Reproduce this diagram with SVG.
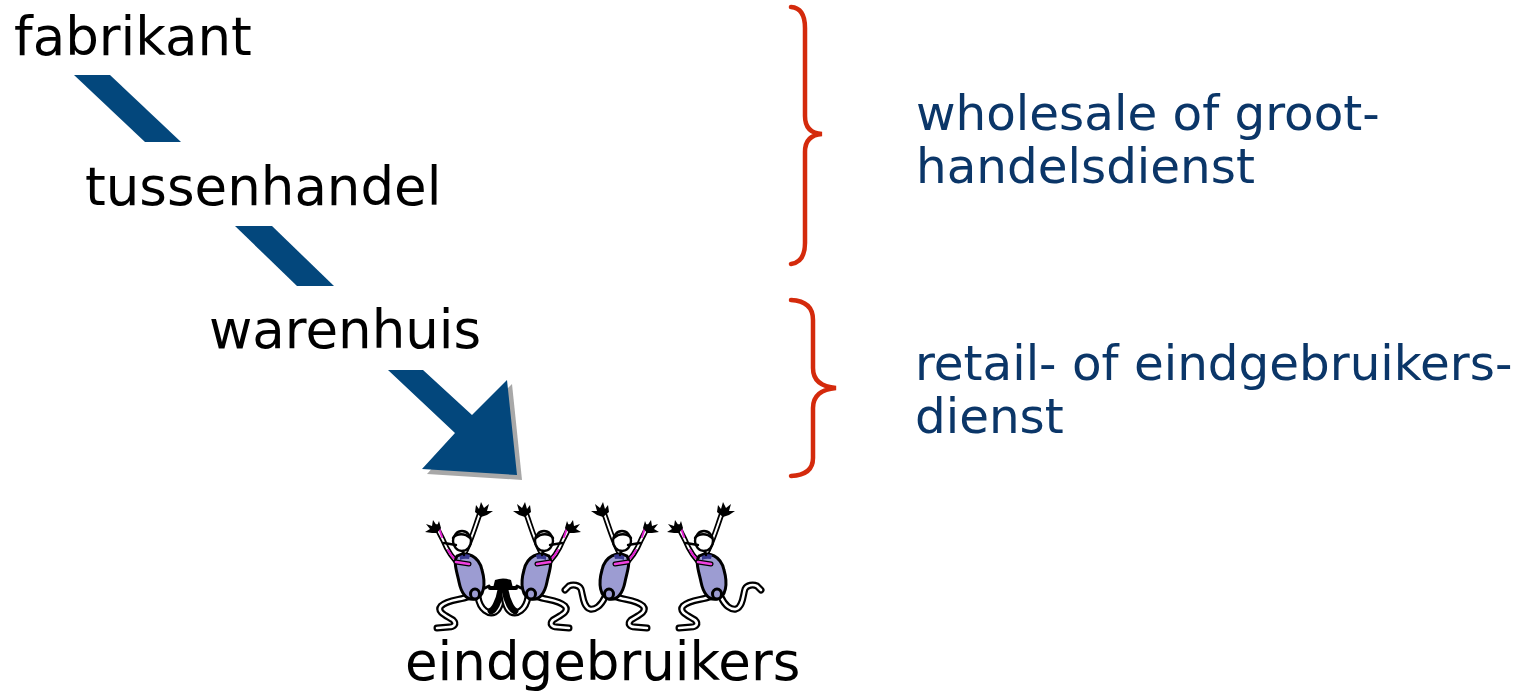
<svg xmlns="http://www.w3.org/2000/svg" xmlns:xlink="http://www.w3.org/1999/xlink" width="1536" height="692" viewBox="0 0 1536 692">
<style>
.lbl{font-family:"DejaVu Sans","Verdana",sans-serif;font-size:53px;fill:#000}
.blue{font-family:"DejaVu Sans","Verdana",sans-serif;font-size:48.4px;fill:#0b3668}
.band{fill:#03477c}
.brace{fill:none;stroke:#d42a0c;stroke-width:4.5;stroke-linecap:round}
.lk{fill:none;stroke:#000;stroke-width:7;stroke-linecap:round;stroke-linejoin:round}
.lw{fill:none;stroke:#fff;stroke-width:2.6;stroke-linecap:round;stroke-linejoin:round}
.ak{fill:none;stroke:#000;stroke-width:5.5;stroke-linecap:round;stroke-linejoin:round}
.aw{fill:none;stroke:#fff;stroke-width:2;stroke-linecap:round;stroke-linejoin:round}
.pk{fill:none;stroke:#e020d0;stroke-width:2;stroke-linecap:round}
.bd{fill:#9c9cd2;stroke:#000;stroke-width:3}
.hd{fill:#fff;stroke:#000;stroke-width:2.4}
.hand{fill:#000}
</style>
<defs>
<g id="fig">
  <!-- right arm (raised high) -->
  <path class="ak" d="M3,14 C9,4 13,-10 19,-27"/>
  <path class="aw" d="M3,14 C9,4 13,-10 19,-27"/>
  <path class="hand" d="M14,-28 l1,-7 l3,4 l2,-7 l3,6 l5,-4 l-2,7 l6,0 l-6,4 l-6,2 z"/>
  <!-- left arm (lower) -->
  <path class="ak" d="M-1,25 C-8,19 -14,10 -18,0 C-21,-6 -23,-9 -24,-13"/>
  <path class="aw" d="M-1,25 C-8,19 -14,10 -18,0 C-21,-6 -23,-9 -24,-13"/>
  <path class="pk" d="M-19,-3 C-20,-6 -21,-9 -22,-12" stroke-width="2.4"/>
  <path class="pk" d="M-4,21 C-8,18 -11,14 -13,10" stroke-width="2"/>
  <path class="hand" d="M-20,-12 l-2,-7 l-2,5 l-4,-6 l-1,6 l-6,-2 l4,5 l-5,3 l7,1 l5,0 z"/>
  <!-- standard left leg -->
  <path class="lk" d="M7,57 C-2,60 -14,60 -20,66 C-25,72 -14,76 -8,80 C-4,84 -7,87 -12,87 L-24,88"/>
  <path class="lw" d="M7,57 C-2,60 -14,60 -20,66 C-25,72 -14,76 -8,80 C-4,84 -7,87 -12,87 L-24,88"/>
  <!-- body -->
  <path class="bd" d="M-4,16 C6,11 18,16 21,30 C25,44 23,57 14,59 C5,61 0,52 -2,42 C-4,32 -8,22 -4,16 Z"/>
  <path d="M-1,16 Q4,13 9,15 L8,19 Q3,18 -1,20 Z" fill="#3a3a90"/>
  <ellipse class="bd" cx="14" cy="54" rx="4.5" ry="5"/>
  <!-- head with cap -->
  <ellipse class="hd" cx="1" cy="1" rx="9" ry="10"/>
  <path d="M-17,3 L-5,5 M-8,-2 C-4,-7 4,-7 9,-2 M2,11 L3,15" fill="none" stroke="#000" stroke-width="2.4" stroke-linecap="round"/>
  <!-- scarf -->
  <path d="M-5,22 L8,24" fill="none" stroke="#000" stroke-width="5" stroke-linecap="round"/>
  <path d="M-5,22 L8,24" fill="none" stroke="#f040e0" stroke-width="2.6" stroke-linecap="round"/>
</g>
<g id="leg-raised">
  <path class="lk" d="M18,57 C22,66 28,70 33,69 C40,67 40,55 42,49 C44,45 50,44 54,46 L58,50"/>
  <path class="lw" d="M18,57 C22,66 28,70 33,69 C40,67 40,55 42,49 C44,45 50,44 54,46 L58,50"/>
</g>
<g id="leg-loop">
  <path class="lk" d="M17,57 C19,70 28,75 34,72 C40,69 41,58 42,47"/>
  <path class="lw" d="M17,57 C19,70 28,75 34,72 C40,69 41,58 42,47"/>
  <path class="lk" d="M40,50 C38,62 33,70 30,71"/>
</g>
</defs>

<g id="connectors">
  <polygon class="band" points="74,75 110,75 181,142 145,142"/>
  <polygon class="band" points="235,226 272,226 334,286 297,286"/>
  <g id="big-arrow">
    <polygon fill="#a8a8a8" points="512,384 522,480 427,474 460,437"/>
    <polygon class="band" points="388,370 423,370 472,415 507,380 517,475 422,469 455,433"/>
  </g>
</g>

<g id="node-fabrikant"><text class="lbl" x="14" y="55">fabrikant</text></g>
<g id="node-tussenhandel"><text class="lbl" x="85" y="205">tussenhandel</text></g>
<g id="node-warenhuis"><text class="lbl" x="209" y="348">warenhuis</text></g>

<g id="node-eindgebruikers">
  <g id="fig1" transform="translate(461,540)">
    <use xlink:href="#leg-loop"/>
    <use xlink:href="#fig"/>
  </g>
  <g id="fig2" transform="translate(545,540) scale(-1,1)">
    <use xlink:href="#leg-loop"/>
    <use xlink:href="#fig"/>
  </g>
  <path d="M495,580 Q503,577 511,580 L513,588 Q503,591 493,588 Z" fill="#000"/>
  <path d="M490,588 L516,588" stroke="#000" stroke-width="4" stroke-linecap="round"/>
  <path d="M489,586 L485,588 M517,586 L521,588" stroke="#000" stroke-width="3" stroke-linecap="round"/>
  <g id="fig3" transform="translate(623,540) scale(-1,1)">
    <use xlink:href="#leg-raised"/>
    <use xlink:href="#fig"/>
  </g>
  <g id="fig4" transform="translate(703,540)">
    <use xlink:href="#leg-raised"/>
    <use xlink:href="#fig"/>
  </g>
  <text class="lbl" x="405" y="680">eindgebruikers</text>
</g>

<g id="brace-wholesale">
  <path class="brace" d="M791,7 Q805,8 805,28 V116 Q805,133 822,134 Q805,135 805,152 V243 Q805,262 791,264"/>
  <text class="blue" x="916" y="130">wholesale of groot-</text>
  <text class="blue" x="916" y="183">handelsdienst</text>
</g>
<g id="brace-retail">
  <path class="brace" d="M791,300 Q813,301 813,320 V368 Q813,386 836,388 Q813,390 813,408 V458 Q813,475 791,476"/>
  <text class="blue" x="915" y="380">retail- of eindgebruikers-</text>
  <text class="blue" x="915" y="433">dienst</text>
</g>
</svg>
